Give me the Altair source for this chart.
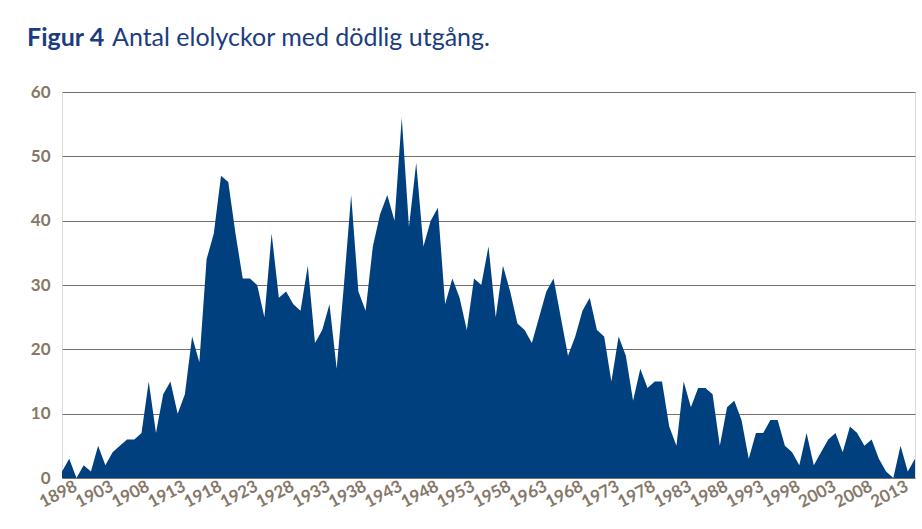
import altair as alt
import pandas as pd

years = list(range(1898, 2017))
deaths = [
    1, 3, 0, 2, 1, 5, 2, 4, 5, 6,        # 1898-1907
    6, 7, 15, 7, 13, 15, 10, 13, 22, 18,  # 1908-1917
    34, 38, 47, 46, 38, 31, 31, 30, 25, 38,  # 1918-1927
    28, 29, 27, 26, 33, 21, 23, 27, 17, 30,  # 1928-1937
    44, 29, 26, 36, 41, 44, 40, 56, 39, 49,  # 1938-1947
    36, 40, 42, 27, 31, 28, 23, 31, 30, 36,  # 1948-1957
    25, 33, 29, 24, 23, 21, 25, 29, 31, 25,  # 1958-1967
    19, 22, 26, 28, 23, 22, 15, 22, 19, 12,  # 1968-1977
    17, 14, 15, 15, 8, 5, 15, 11, 14, 14,    # 1978-1987
    13, 5, 11, 12, 9, 3, 7, 7, 9, 9,         # 1988-1997
    5, 4, 2, 7, 2, 4, 6, 7, 4, 8,            # 1998-2007
    7, 5, 6, 3, 1, 0, 5, 1, 3,               # 2008-2016
]
tick_years = list(range(1898, 2014, 5))
y_ticks = [0, 10, 20, 30, 40, 50, 60]

title_bold = "Figur 4"
title_rest = "Antal elolyckor med dödlig utgång."

df = pd.DataFrame({"year": years, "deaths": deaths})

AREA = "#00407f"
LABEL = "#85786a"
GRID = "#7a6f66"
TITLE = "#1b3d80"

area = alt.Chart(df).mark_area(color=AREA, opacity=1, interpolate="linear").encode(
    x=alt.X(
        "year:Q",
        scale=alt.Scale(domain=[1898, 2016], nice=False, zero=False),
        axis=alt.Axis(
            values=tick_years,
            format="d",
            title=None,
            grid=False,
            ticks=False,
            domain=False,
            labelAngle=-27,
            labelAlign="center",
            labelBaseline="middle",
            labelPadding=16,
            labelOffset=-4,
            labelFont="Lato",
            labelFontWeight="bold",
            labelFontSize=17,
            labelColor=LABEL,
            labelOverlap=False,
            labelFlush=False,
        ),
    ),
    y=alt.Y(
        "deaths:Q",
        scale=alt.Scale(domain=[0, 60], nice=False),
        axis=alt.Axis(
            values=y_ticks,
            title=None,
            grid=True,
            gridColor=GRID,
            gridWidth=1.2,
            ticks=False,
            domain=False,
            labelPadding=12,
            labelFont="Lato",
            labelFontWeight="bold",
            labelFontSize=17,
            labelColor=LABEL,
        ),
    ),
)

t1 = alt.Chart(pd.DataFrame({"t": [title_bold]})).mark_text(
    align="left", baseline="alphabetic", font="Lato", fontWeight="bold",
    fontSize=25, color=TITLE,
).encode(x=alt.value(-35), y=alt.value(-46), text="t:N")

t2 = alt.Chart(pd.DataFrame({"t": [title_rest]})).mark_text(
    align="left", baseline="alphabetic", font="Lato", fontWeight="normal",
    fontSize=25, color=TITLE,
).encode(x=alt.value(50), y=alt.value(-46), text="t:N")

chart = alt.layer(area, t1, t2).properties(
    width=853,
    height=386,
    padding={"left": 62, "top": 92, "right": 7, "bottom": 51},
    autosize=alt.AutoSizeParams(type="none"),
).configure_view(stroke=None).configure(background="white")

chart.save("out.html", embed_options={"renderer": "svg", "actions": False})
